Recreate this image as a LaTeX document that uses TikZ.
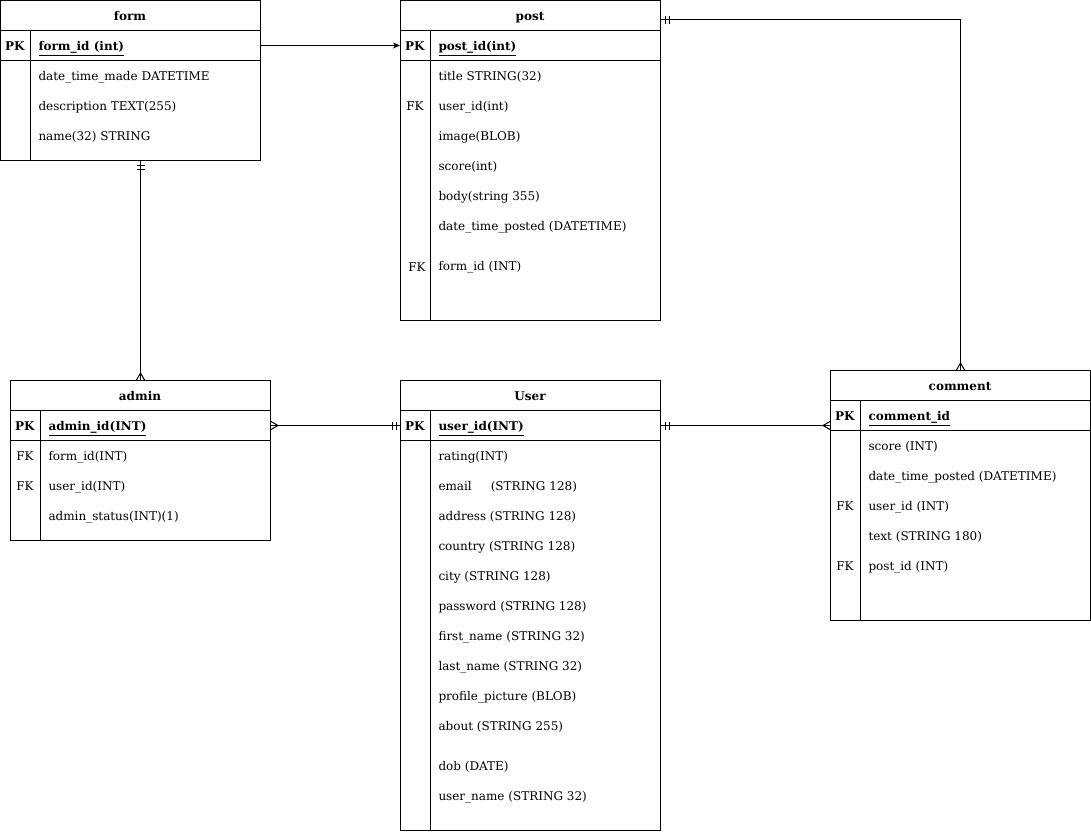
\documentclass[tikz,border=0pt]{standalone}
\usepackage{fontspec}
\setmainfont{DejaVu Serif}
\usetikzlibrary{arrows.meta}

% crow's foot ends
\pgfdeclarearrow{
  name = ERone,
  setup code = {
    \pgfarrowssettipend{0pt}
    \pgfarrowssetlineend{0pt}
    \pgfarrowssetbackend{-9pt}
    \pgfarrowshullpoint{0pt}{4pt}
    \pgfarrowshullpoint{-9pt}{4pt}
    \pgfarrowshullpoint{-9pt}{-4pt}
    \pgfarrowshullpoint{0pt}{-4pt}
  },
  drawing code = {
    \pgfpathmoveto{\pgfqpoint{-4pt}{-4pt}}
    \pgfpathlineto{\pgfqpoint{-4pt}{4pt}}
    \pgfpathmoveto{\pgfqpoint{-8pt}{-4pt}}
    \pgfpathlineto{\pgfqpoint{-8pt}{4pt}}
    \pgfusepathqstroke
  }
}
\pgfdeclarearrow{
  name = ERmany,
  setup code = {
    \pgfarrowssettipend{0pt}
    \pgfarrowssetlineend{0pt}
    \pgfarrowssetbackend{-8pt}
    \pgfarrowshullpoint{0pt}{4pt}
    \pgfarrowshullpoint{-8pt}{0pt}
    \pgfarrowshullpoint{0pt}{-4pt}
  },
  drawing code = {
    \pgfpathmoveto{\pgfqpoint{0pt}{4pt}}
    \pgfpathlineto{\pgfqpoint{-7pt}{0pt}}
    \pgfpathlineto{\pgfqpoint{0pt}{-4pt}}
    \pgfusepathqstroke
  }
}

\tikzset{
  tbl/.style={draw, rectangle, inner sep=0pt, anchor=north west, minimum width=260},
  ttl/.style={font=\fontsize{12}{14}\selectfont\bfseries, inner sep=0pt, anchor=base, yshift=-5.5pt},
  key/.style={inner sep=0pt, anchor=base, yshift=-5.5pt},
  fld/.style={anchor=base west, inner sep=0pt, yshift=-5.5pt},
}

\begin{document}
\begin{tikzpicture}[x=1pt, y=-1pt, line width=1pt, font=\fontsize{12}{14}\selectfont]
  \useasboundingbox (0,0) rectangle (1091,832);

  % form
  \node (form) at (0,0) [tbl, minimum height=160] {};
  \node (form-pkrow) at (0,30) [tbl, minimum height=30] {};
  \draw (30,30) -- (30,160);
  \node (form-t) at (130,15) [ttl] {form};
  \node (form-pk) at (15,45) [key] {\textbf{PK}};
  \node (form-id) at (38,45) [fld] {\textbf{\underline{form\_id (int)}}};
  \foreach \y/\t [count=\i] in {75/date\_time\_made DATETIME, 105/description TEXT(255), 135/name(32) STRING}
    \node (form-f\i) at (38,\y) [fld] {\t};

  % post
  \node (post) at (400,0) [tbl, minimum height=320] {};
  \node (post-pkrow) at (400,30) [tbl, minimum height=30] {};
  \draw (430,30) -- (430,320);
  \node (post-t) at (530,15) [ttl] {post};
  \node (post-pk) at (415,45) [key] {\textbf{PK}};
  \node (post-id) at (438,45) [fld] {\textbf{\underline{post\_id(int)}}};
  \node (post-fk1) at (415,105) [key] {FK};
  \node (post-fk2) at (417,266) [key] {FK};
  \foreach \y/\t [count=\i] in {75/title STRING(32), 105/user\_id(int), 135/image(BLOB), 165/score(int),
      195/body(string 355), 225/date\_time\_posted (DATETIME), 265/form\_id (INT)}
    \node (post-f\i) at (438,\y) [fld] {\t};

  % admin
  \node (admin) at (10,380) [tbl, minimum height=160] {};
  \node (admin-pkrow) at (10,410) [tbl, minimum height=30] {};
  \draw (40,410) -- (40,540);
  \node (admin-t) at (140,395) [ttl] {admin};
  \node (admin-pk) at (25,425) [key] {\textbf{PK}};
  \node (admin-id) at (48,425) [fld] {\textbf{\underline{admin\_id(INT)}}};
  \node (admin-fk1) at (25,455) [key] {FK};
  \node (admin-fk2) at (25,485) [key] {FK};
  \foreach \y/\t [count=\i] in {455/form\_id(INT), 485/user\_id(INT), 515/admin\_status(INT)(1)}
    \node (admin-f\i) at (48,\y) [fld] {\t};

  % User
  \node (user) at (400,380) [tbl, minimum height=450] {};
  \node (user-pkrow) at (400,410) [tbl, minimum height=30] {};
  \draw (430,410) -- (430,830);
  \node (user-t) at (530,395) [ttl] {User};
  \node (user-pk) at (415,425) [key] {\textbf{PK}};
  \node (user-id) at (438,425) [fld] {\textbf{\underline{user\_id(INT)}}};
  \foreach \y/\t [count=\i] in {455/rating(INT), 485/email\hspace{19pt}(STRING 128), 515/address (STRING 128),
      545/country (STRING 128), 575/city (STRING 128), 605/password (STRING 128), 635/first\_name (STRING 32),
      665/last\_name (STRING 32), 695/profile\_picture (BLOB), 725/about (STRING 255), 765/dob (DATE),
      795/user\_name (STRING 32)}
    \node (user-f\i) at (438,\y) [fld] {\t};

  % comment
  \node (comment) at (830,370) [tbl, minimum height=250] {};
  \node (comment-pkrow) at (830,400) [tbl, minimum height=30] {};
  \draw (860,400) -- (860,620);
  \node (comment-t) at (960,385) [ttl] {comment};
  \node (comment-pk) at (845,415) [key] {\textbf{PK}};
  \node (comment-id) at (868,415) [fld] {\textbf{\underline{comment\_id}}};
  \node (comment-fk1) at (845,505) [key] {FK};
  \node (comment-fk2) at (845,565) [key] {FK};
  \foreach \y/\t [count=\i] in {445/score (INT), 475/date\_time\_posted (DATETIME), 505/user\_id (INT),
      535/text (STRING 180), 565/post\_id (INT)}
    \node (comment-f\i) at (868,\y) [fld] {\t};

  % relations
  \draw[-{Stealth[length=7pt, width=6pt, inset=2pt]}] (form-pkrow.east) -- (post-pkrow.west);
  \draw[ERone-ERmany] (form.south -| admin.north) -- (admin.north);
  \draw[ERmany-ERone] (admin-pkrow.east) -- (user-pkrow.west);
  \draw[ERone-ERmany] (user-pkrow.east) -- (comment.west |- user-pkrow.east);
  \draw[ERone-ERmany] ([yshift=-20pt]post.north east) -| (comment.north);
\end{tikzpicture}
\end{document}
